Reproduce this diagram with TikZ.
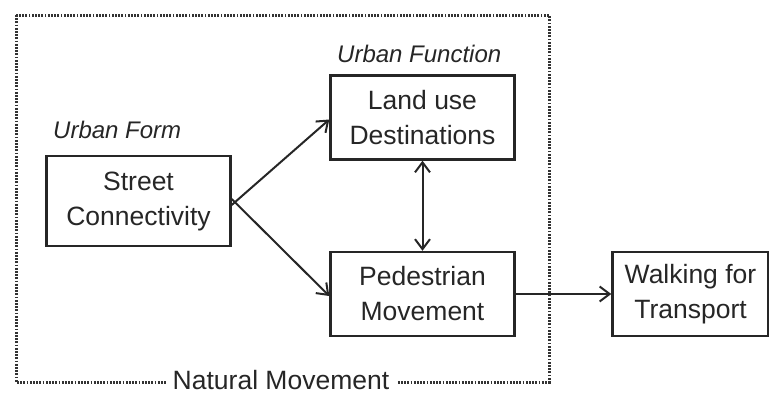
\documentclass[tikz,border=0pt]{standalone}
\usepackage{fontspec}
\setmainfont{Liberation Sans}
\usetikzlibrary{arrows.meta}
\tikzset{
  box/.style={draw=black!85, line width=2.4pt, minimum width=184pt, align=center, inner sep=0pt,
    font=\fontsize{26.5}{35}\selectfont, text=black!85},
  lbl/.style={font=\fontsize{24}{28}\selectfont\itshape, text=black!85, inner sep=0pt},
  conn/.style={line width=2pt, draw=black!85, -{Straight Barb[length=10pt,width=15pt,line width=2pt]}},
  frame/.style={line width=3pt, draw=black!80, dash pattern=on 1.8pt off 1.4pt}
}
\begin{document}
\begin{tikzpicture}[x=1pt,y=-1pt]
\useasboundingbox (0,0) rectangle (769,394);
\draw[frame] (16,15) rectangle (549,382);
\node[box, minimum height=90pt] (sc) at (138.5,201) {Street\\Connectivity};
\node[box, minimum height=84pt] (lu) at (422.5,117.5) {Land use\\Destinations};
\node[box, minimum height=84pt] (pm) at (422.5,294) {Pedestrian\\Movement};
\node[box, minimum height=84pt, minimum width=156pt] (wt) at (690.5,294) {Walking for\\Transport};
\node[lbl, anchor=base west] (uf) at (53,138) {Urban Form};
\node[lbl, anchor=base west] (ufn) at (337,62) {Urban Function};
\node[fill=white, inner xsep=7pt, inner ysep=0pt, font=\fontsize{26.5}{30}\selectfont, text=black!85] (nm) at (281,380) {Natural Movement};
\draw[conn] ([yshift=-4pt]sc.east) -- ([yshift=-2pt]lu.west);
\draw[conn] ([yshift=2pt]sc.east) -- ([yshift=-2pt]pm.west);
\draw[conn, {Straight Barb[length=10pt,width=15pt,line width=2pt]}-{Straight Barb[length=10pt,width=15pt,line width=2pt]}] (lu.south) -- (pm.north);
\draw[conn] (pm.east) -- (wt.west);
\end{tikzpicture}
\end{document}
